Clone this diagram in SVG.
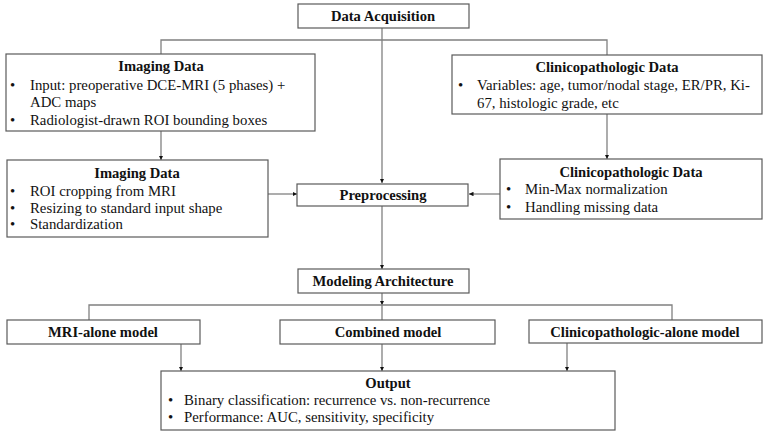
<svg xmlns="http://www.w3.org/2000/svg" width="769" height="438" viewBox="0 0 769 438">
<style>
.box{fill:#fff;stroke:#5a5a5a;stroke-width:1.2}
.t{font-family:"Liberation Serif","Times New Roman",serif;font-size:14.8px;fill:#111}
.b{font-weight:bold;text-anchor:middle;font-size:14.6px}
.ln{fill:none;stroke:#808080;stroke-width:1.3}
</style>
<defs>
<marker id="ah" viewBox="0 0 10 10" refX="10" refY="5" markerWidth="4.5" markerHeight="4.5" orient="auto" markerUnits="userSpaceOnUse">
<path d="M0,0 L10,5 L0,10 z" fill="#111"/>
</marker>
</defs>
<rect width="769" height="438" fill="#fff"/>
<g id="connectors">
<path class="ln" d="M161,54 V40 H607 V55"/>
<path class="ln" d="M382,28 V183" marker-end="url(#ah)"/>
<path class="ln" d="M161,131 V160" marker-end="url(#ah)"/>
<path class="ln" d="M607,114 V159" marker-end="url(#ah)"/>
<path class="ln" d="M268,194 H297" marker-end="url(#ah)"/>
<path class="ln" d="M500,194 H469" marker-end="url(#ah)"/>
<path class="ln" d="M382,206 V269" marker-end="url(#ah)"/>
<path class="ln" d="M382,293 V305" marker-end="url(#ah)"/>
<path class="ln" d="M382,305 V320"/>
<path class="ln" d="M89,320 V305 H672 V320"/>
<path class="ln" d="M181,344 V371" marker-end="url(#ah)"/>
<path class="ln" d="M382,344 V371" marker-end="url(#ah)"/>
<path class="ln" d="M567,343 V371" marker-end="url(#ah)"/>
</g>
<g id="data-acquisition">
<rect class="box" x="298" y="4" width="171" height="24"/>
<text class="t b" x="383" y="21">Data Acquisition</text>
</g>
<g id="imaging-data-1">
<rect class="box" x="6" y="54" width="309" height="77"/>
<text class="t b" x="161" y="71">Imaging Data</text>
<text class="t" x="10" y="90">•</text><text class="t" x="30" y="90">Input: preoperative DCE-MRI (5 phases) +</text>
<text class="t" x="30" y="107">ADC maps</text>
<text class="t" x="10" y="125">•</text><text class="t" x="30" y="125">Radiologist-drawn ROI bounding boxes</text>
</g>
<g id="clinico-data-1">
<rect class="box" x="452" y="55" width="310" height="59"/>
<text class="t b" x="607" y="72">Clinicopathologic Data</text>
<text class="t" x="458" y="90">•</text><text class="t" x="477" y="90">Variables: age, tumor/nodal stage, ER/PR, Ki-</text>
<text class="t" x="477" y="108">67, histologic grade, etc</text>
</g>
<g id="imaging-data-2">
<rect class="box" x="7" y="160" width="261" height="77"/>
<text class="t b" x="137" y="178">Imaging Data</text>
<text class="t" x="10" y="196">•</text><text class="t" x="30" y="196">ROI cropping from MRI</text>
<text class="t" x="10" y="213">•</text><text class="t" x="30" y="213">Resizing to standard input shape</text>
<text class="t" x="10" y="229">•</text><text class="t" x="30" y="229">Standardization</text>
</g>
<g id="preprocessing">
<rect class="box" x="297" y="184" width="171" height="22"/>
<text class="t b" x="383" y="200">Preprocessing</text>
</g>
<g id="clinico-data-2">
<rect class="box" x="500" y="159" width="262" height="60"/>
<text class="t b" x="631" y="177">Clinicopathologic Data</text>
<text class="t" x="506" y="194">•</text><text class="t" x="525" y="194">Min-Max normalization</text>
<text class="t" x="506" y="212">•</text><text class="t" x="525" y="212">Handling missing data</text>
</g>
<g id="modeling-architecture">
<rect class="box" x="298" y="269" width="171" height="24"/>
<text class="t b" x="383" y="286">Modeling Architecture</text>
</g>
<g id="mri-alone">
<rect class="box" x="7" y="320" width="193" height="24"/>
<text class="t b" x="103" y="337">MRI-alone model</text>
</g>
<g id="combined">
<rect class="box" x="280" y="320" width="215" height="24"/>
<text class="t b" x="388" y="337">Combined model</text>
</g>
<g id="clinico-alone">
<rect class="box" x="529" y="320" width="233" height="23"/>
<text class="t b" x="645" y="337">Clinicopathologic-alone model</text>
</g>
<g id="output">
<rect class="box" x="161" y="371" width="454" height="59"/>
<text class="t b" x="388" y="388">Output</text>
<text class="t" x="168" y="405">•</text><text class="t" x="184" y="405">Binary classification: recurrence vs. non-recurrence</text>
<text class="t" x="168" y="422">•</text><text class="t" x="184" y="422">Performance: AUC, sensitivity, specificity</text>
</g>
</svg>
